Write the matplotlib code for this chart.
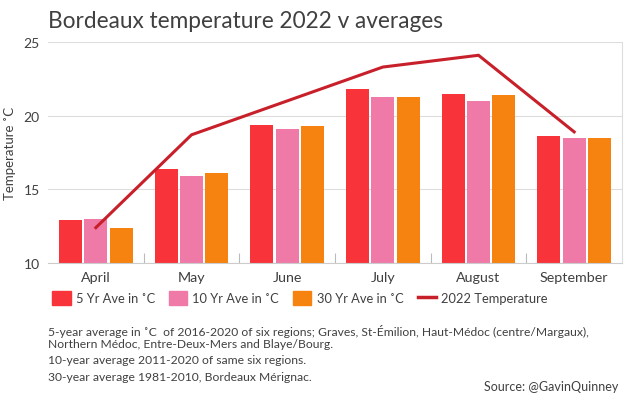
import matplotlib.pyplot as plt
import matplotlib.patches as mpatches
import matplotlib.lines as mlines
import numpy as np

plt.rcParams['font.family'] = ['Lato', 'DejaVu Sans']

months = ["April", "May", "June", "July", "August", "September"]
ave_5yr = [12.9, 16.4, 19.4, 21.8, 21.5, 18.6]
ave_10yr = [13.0, 15.9, 19.1, 21.3, 21.0, 18.5]
ave_30yr = [12.4, 16.1, 19.3, 21.3, 21.4, 18.5]
temp_2022 = [12.4, 18.7, 21.0, 23.3, 24.1, 18.9]

c_5 = "#f8343a"
c_10 = "#ef7aa8"
c_30 = "#f6820f"
c_line = "#c8202a"
txt = "#404040"

fig = plt.figure(figsize=(6.3, 4.02), dpi=100)
ax = fig.add_axes([48 / 630, 1 - 264 / 402, 574 / 630, 221 / 402])

x = np.arange(len(months))
w = 0.24
step = 0.265
ax.bar(x - step, ave_5yr, w, color=c_5, zorder=2)
ax.bar(x, ave_10yr, w, color=c_10, zorder=2)
ax.bar(x + step, ave_30yr, w, color=c_30, zorder=2)
ax.plot(x, temp_2022, color=c_line, lw=2.2, zorder=3, solid_joinstyle="miter")

ax.set_xlim(-0.5, len(months) - 0.5)
ax.set_ylim(10, 25)
ax.set_yticks([10, 15, 20, 25])
ax.yaxis.grid(True, color="#dddddd", lw=0.8, zorder=0)
ax.tick_params(axis="y", length=0, labelsize=10, labelcolor=txt, pad=6)
ax.set_xticks(x)
ax.set_xticklabels(months)
ax.tick_params(axis="x", length=0, labelsize=10.3, labelcolor=txt, pad=6)
ax.set_xticks(np.arange(0.5, len(months) - 0.5), minor=True)
ax.tick_params(axis="x", which="minor", direction="in", length=7, color="#bbbbbb", width=0.8)
for s in ["top", "left"]:
    ax.spines[s].set_visible(False)
ax.spines["right"].set_color("#dddddd")
ax.spines["bottom"].set_color("#cccccc")
ax.set_ylabel("Temperature ˚C", fontsize=9.5, color=txt)
ax.yaxis.set_label_coords(-32 / 574, 0.5)

fig.text(48 / 630, 1 - 22 / 402, "Bordeaux temperature 2022 v averages",
         fontsize=16.3, color=txt, va="center")

handles = [
    mpatches.Patch(color=c_5, label="5 Yr Ave in ˚C"),
    mpatches.Patch(color=c_10, label="10 Yr Ave in ˚C"),
    mpatches.Patch(color=c_30, label="30 Yr Ave in ˚C"),
    mlines.Line2D([], [], color=c_line, lw=2.5, label="2022 Temperature"),
]
fig.legend(handles=handles, loc="center left", bbox_to_anchor=(46 / 630, 1 - 299 / 402),
           ncol=4, frameon=False, fontsize=9.3, labelcolor=txt, handlelength=1.4,
           handleheight=1.3, handletextpad=0.4, columnspacing=1.1, borderpad=0)

notes = [
    (332, "5-year average in ˚C  of 2016-2020 of six regions; Graves, St-Émilion, Haut-Médoc (centre/Margaux),"),
    (345, "Northern Médoc, Entre-Deux-Mers and Blaye/Bourg."),
    (361, "10-year average 2011-2020 of same six regions."),
    (378, "30-year average 1981-2010, Bordeaux Mérignac."),
]
for yy, t in notes:
    fig.text(48 / 630, 1 - yy / 402, t, fontsize=8.75, color=txt, va="center")
fig.text(618 / 630, 1 - 387 / 402, "Source: @GavinQuinney", fontsize=9, color=txt,
         va="center", ha="right")

fig.savefig("out.png", dpi=100)
